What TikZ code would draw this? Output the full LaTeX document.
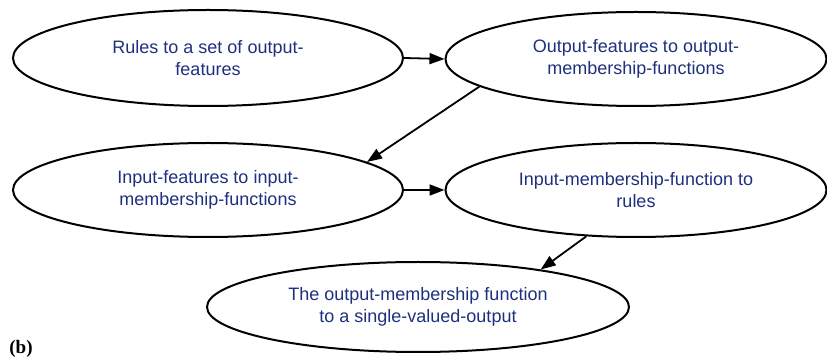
\documentclass[tikz,border=0pt]{standalone}
\usepackage{fontspec}
\newfontfamily\stagefont{Liberation Sans}
\newfontfamily\tagfont{Liberation Serif}
\definecolor{stagenavy}{RGB}{30,48,125}
\usetikzlibrary{shapes.geometric,arrows.meta}

\begin{document}
\begin{tikzpicture}[x=1pt,y=1pt,
    stage/.style={ellipse, draw, line width=2pt, inner sep=0pt, align=center,
      text=stagenavy, font=\stagefont\fontsize{18}{22}\selectfont},
    flow/.style={line width=1.8pt, -{Triangle[length=15pt,width=11pt]}}]
  \useasboundingbox (0,0) rectangle (827,361);
  \node[stage, minimum width=390pt, minimum height=96pt] (R1) at (208,303) {Rules to a set of output-\\features};
  \node[stage, minimum width=381pt, minimum height=94pt] (O1) at (636,302) {Output-features to output-\\membership-functions};
  \node[stage, minimum width=390pt, minimum height=94pt] (I1) at (208,171) {Input-features to input-\\membership-functions};
  \node[stage, minimum width=381pt, minimum height=94pt] (I2) at (636,171) {Input-membership-function to\\rules};
  \node[stage, minimum width=422pt, minimum height=90pt] (O2) at (418,54) {The output-membership function\\to a single-valued-output};
  \node[inner sep=0pt, font=\tagfont\bfseries\fontsize{19}{22}\selectfont] (lbl) at (21,12) {(b)};
  \draw[flow] (R1.east) -- (O1.west);
  \draw[flow] (O1.190) -- (I1.10);
  \draw[flow] (I1.east) -- (I2.west);
  \draw[flow] (I2.223) -- (O2.17);
\end{tikzpicture}
\end{document}
